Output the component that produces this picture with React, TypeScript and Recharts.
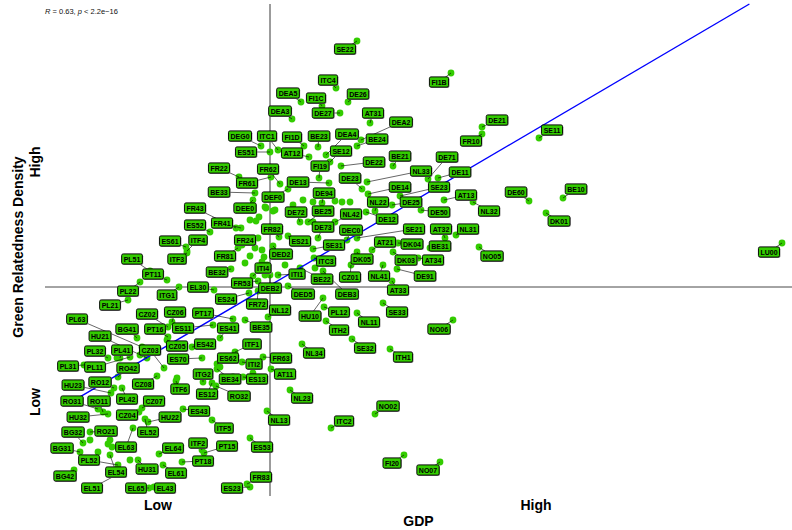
import React from "react";
import { ScatterChart, Scatter, XAxis, YAxis, ReferenceLine } from "recharts";

// NUTS-2 regions: GDP index vs. green relatedness density index
const regions = [
  "SE22", "ITC4", "DEA5", "FI1C", "DE26", "DEA3", "DE27", "AT31", "FI1B", "DEA2",
  "BE24", "DEG0", "ITC1", "FI1D", "BE23", "DEA4", "ES51", "AT12", "SE12", "BE21",
  "DE21", "FR10", "SE11", "DE22", "NL33", "DE71", "DE11", "DE14", "SE23", "AT13",
  "NL32", "DE60", "BE10", "DK01", "NL31", "NO05", "LU00", "FR22", "FR62", "FR61",
  "BE33", "DEE0", "DEF0", "DE13", "FI19", "DE23", "DE94", "BE25", "DE72", "NL42",
  "DE73", "NL22", "DE25", "DE12", "DE50", "DEC0", "SE21", "AT32", "ES21", "FR82",
  "DED2", "SE31", "AT21", "DK04", "BE31", "DK05", "DK03", "AT34", "ITC3", "ITI1",
  "BE22", "CZ01", "NL41", "DE91", "AT33", "DEB3", "DEB2", "DED5", "NL12", "HU10",
  "PL12", "NL11", "SE33", "ITH2", "NO06", "SE32", "ITH1", "NL34", "FR63", "AT11",
  "ES13", "ITI2", "NL23", "NO02", "ITC2", "NL13", "ES53", "FI20", "NO07", "FR83",
  "ES23", "ES61", "ITF4", "FR43", "FR41", "ES52", "FR24", "FR81", "ITI4", "PL51",
  "PT11", "ITF3", "BE32", "FR53", "PL22", "ITG1", "EL30", "ES24", "FR72", "PL21",
  "CZ02", "CZ06", "PT17", "PL63", "BG41", "PT16", "ES11", "ES41", "BE35", "HU21",
  "CZ05", "ES42", "ITF1", "PL32", "PL41", "CZ03", "ES70", "ES62", "PL31", "PL11",
  "RO42", "ITG2", "BE34", "ES12", "RO32", "HU23", "RO12", "CZ08", "ITF6", "RO31",
  "RO11", "PL42", "CZ07", "HU32", "CZ04", "HU22", "ES43", "ITF5", "BG32", "RO21",
  "EL52", "EL63", "BG31", "EL64", "ITF2", "PT15", "PL52", "PT18", "EL54", "HU31",
  "EL61", "BG42", "EL51", "EL65", "EL43",
];

const gdp = [
  357, 336, 301, 322, 348, 292, 340, 370, 451, 361,
  357, 261, 278, 304, 318, 326, 270, 309, 330, 393,
  482, 482, 539, 341, 367, 428, 438, 368, 400, 444,
  473, 529, 563, 546, 456, 479, 782, 239, 280, 271,
  255, 253, 288, 329, 319, 362, 322, 308, 300, 335,
  318, 375, 392, 366, 421, 347, 357, 445, 288, 279,
  273, 313, 372, 398, 430, 357, 393, 418, 314, 278,
  300, 351, 383, 397, 392, 323, 270, 288, 268, 323,
  324, 357, 383, 326, 453, 352, 390, 302, 263, 271,
  243, 242, 290, 375, 331, 267, 250, 404, 440, 247,
  250, 186, 187, 236, 241, 210, 242, 238, 253, 150,
  167, 187, 231, 258, 140, 179, 214, 249, 258, 128,
  168, 172, 233, 142, 137, 168, 213, 220, 245, 147,
  167, 192, 235, 108, 120, 164, 202, 217, 84, 130,
  118, 203, 217, 212, 216, 111, 114, 157, 176, 98,
  103, 122, 142, 108, 139, 148, 183, 212, 83, 90,
  145, 133, 80, 159, 202, 204, 118, 182, 110, 138,
  163, 74, 120, 149, 154,
];

const grd = [
  459, 412, 398, 394, 398, 381, 387, 377, 427, 360,
  354, 354, 350, 354, 353, 345, 348, 343, 338, 334,
  373, 366, 362, 334, 318, 321, 322, 306, 304, 300,
  298, 299, 302, 287, 265, 253, 257, 323, 316, 323,
  307, 300, 311, 317, 322, 311, 297, 278, 278, 278,
  262, 289, 295, 288, 290, 260, 262, 262, 264, 263,
  254, 251, 250, 257, 252, 248, 248, 242, 242, 225,
  232, 235, 235, 231, 219, 229, 225, 214, 183, 202,
  193, 187, 197, 179, 180, 161, 151, 156, 143, 131,
  123, 138, 110, 86, 72, 89, 62, 45, 38, 16,
  13, 253, 249, 272, 272, 268, 255, 252, 224, 229,
  220, 247, 231, 219, 218, 213, 210, 207, 209, 200,
  173, 178, 181, 153, 162, 163, 175, 162, 180, 142,
  160, 153, 148, 142, 142, 132, 142, 136, 135, 143,
  123, 118, 131, 117, 114, 107, 112, 124, 119, 91,
  88, 112, 92, 86, 88, 78, 91, 80, 57, 68,
  81, 72, 48, 46, 50, 47, 35, 38, 45, 40,
  35, 30, 27, 12, 13,
];

// where each repelled label sits, in the same units
const labelGdp = [
  345, 328, 288, 316, 358, 280, 323, 373, 439, 401,
  377, 240, 267, 292, 319, 347, 246, 292, 341, 400,
  497, 471, 552, 374, 421, 447, 460, 400, 439, 466,
  489, 516, 576, 559, 468, 492, 769, 219, 268, 247,
  219, 245, 273, 298, 320, 350, 324, 323, 296, 351,
  323, 378, 411, 387, 439, 351, 414, 441, 300, 272,
  281, 334, 385, 412, 440, 362, 406, 433, 326, 297,
  322, 350, 379, 425, 398, 347, 270, 303, 280, 310,
  339, 369, 397, 339, 439, 365, 403, 314, 281, 285,
  257, 254, 302, 388, 344, 279, 262, 392, 428, 261,
  232, 170, 198, 195, 222, 195, 245, 225, 263, 132,
  153, 177, 217, 242, 128, 167, 198, 226, 257, 110,
  147, 175, 203, 77, 127, 155, 183, 228, 261, 100,
  177, 205, 252, 95, 122, 150, 178, 228, 68, 95,
  128, 203, 230, 207, 239, 73, 100, 143, 180, 72,
  99, 127, 154, 78, 127, 170, 199, 224, 73, 106,
  148, 126, 62, 173, 198, 227, 89, 203, 116, 147,
  176, 65, 92, 136, 165,
];

const labelGrd = [
  451, 420, 407, 402, 406, 389, 387, 387, 418, 378,
  361, 364, 364, 363, 364, 366, 348, 347, 349, 344,
  380, 359, 370, 338, 329, 343, 328, 313, 313, 305,
  289, 308, 311, 279, 271, 244, 248, 332, 331, 317,
  308, 292, 303, 318, 334, 322, 307, 289, 288, 286,
  273, 298, 298, 281, 288, 270, 271, 271, 259, 271,
  246, 255, 258, 256, 254, 241, 240, 240, 239, 226,
  221, 223, 224, 224, 210, 206, 212, 206, 190, 184,
  188, 178, 188, 170, 171, 152, 143, 147, 142, 126,
  121, 136, 102, 94, 79, 80, 53, 37, 30, 23,
  12, 259, 260, 292, 277, 275, 260, 244, 232, 241,
  226, 241, 228, 217, 209, 205, 213, 201, 196, 195,
  186, 188, 187, 181, 171, 171, 172, 172, 173, 164,
  154, 156, 156, 149, 150, 150, 141, 142, 134, 133,
  132, 126, 121, 106, 104, 115, 118, 116, 111, 99,
  99, 101, 99, 83, 85, 83, 89, 72, 68, 69,
  68, 53, 52, 52, 57, 54, 40, 39, 28, 31,
  27, 24, 12, 12, 12,
];

// regions whose labels were dropped by the repel step
const unlabeledGdp = [
  266, 273, 259, 250, 256, 258, 255, 264, 250, 303,
  313, 335, 342, 350, 265, 275, 293, 313, 262, 285,
  267, 265, 315, 245, 262, 117, 140, 177, 220, 233,
  253, 90, 110, 108, 112, 98, 130,
];
const unlabeledGrd = [
  292, 289, 283, 280, 279, 262, 252, 243, 244, 300,
  298, 299, 298, 298, 293, 290, 295, 278, 250, 235,
  235, 225, 232, 237, 238, 142, 145, 122, 133, 123,
  127, 60, 60, 56, 53, 48, 40,
];

const gdpMedian = 270;
const grdMedian = 213;
const fit = { intercept: 56.1, slope: 0.587 };
const corrText = { r: "0.63", p: "2.2e\u221216" };

const xTicks = [158, 536];
const yTicks = [98, 338];
const tickNames = ["Low", "High"];

const X_DOMAIN: [number, number] = [45, 792];
const Y_DOMAIN: [number, number] = [4, 496];

const FONT = "'Liberation Sans', Arial, Helvetica, sans-serif";
const GREEN = "#33cc00";

const points = [
  ...regions.map((name, i) => ({ x: gdp[i], y: grd[i], name })),
  ...unlabeledGdp.map((x, i) => ({ x, y: unlabeledGrd[i], name: "" })),
];
const labels = regions.map((name, i) => ({ x: labelGdp[i], y: labelGrd[i], name }));

const fitAt = (x: number) => fit.intercept + fit.slope * x;
const fitStart = Math.min(...gdp);
const fitEnd = (Y_DOMAIN[1] - fit.intercept) / fit.slope;

// rough Helvetica-bold advance widths (em)
const narrow: Record<string, number> = { I: 0.278, E: 0.667, P: 0.667, S: 0.667, F: 0.611, L: 0.611, T: 0.611, Z: 0.611, G: 0.778, O: 0.778 };
const textWidth = (s: string, size: number) =>
  [...s].reduce((w, c) => w + (/\d/.test(c) ? 0.556 : narrow[c] ?? 0.722), 0) * size;

const LABEL_SIZE = 7;

function LabelBox(props: any) {
  const { cx, cy, payload } = props;
  const w = textWidth(payload.name, LABEL_SIZE) + 4;
  const h = 10.2;
  return (
    <g>
      <rect x={cx - w / 2 + 0.8} y={cy - h / 2 + 0.8} width={w} height={h} rx={1.6} fill="#8f8f8f" />
      <rect x={cx - w / 2} y={cy - h / 2} width={w} height={h} rx={1.6} fill={GREEN} stroke="#000" strokeWidth={0.95} />
      <text x={cx} y={cy} dy="0.36em" textAnchor="middle" fontFamily={FONT} fontWeight={700} fontSize={LABEL_SIZE} fill="#000">
        {payload.name}
      </text>
    </g>
  );
}

function Dot(props: any) {
  return <circle cx={props.cx} cy={props.cy} r={3.4} fill={GREEN} />;
}

function YTick({ x, y, payload }: any) {
  return (
    <text transform={`translate(${x + 2.5},${y}) rotate(-90)`} textAnchor="middle" fontFamily={FONT} fontWeight={700} fontSize={14} fill="#000">
      {tickNames[yTicks.indexOf(payload.value)]}
    </text>
  );
}

function YTitle({ viewBox }: any) {
  return (
    <text transform={`translate(${viewBox.x + 22.5},${viewBox.y + viewBox.height / 2 - 3}) rotate(-90)`} textAnchor="middle" fontFamily={FONT} fontWeight={700} fontSize={14} fill="#000">
      Green Relatedness Density
    </text>
  );
}

export default function App() {
  return (
    <div style={{ position: "relative", width: 792, height: 530, background: "#fff" }}>
      <style>{"body{margin:0}"}</style>
      <ScatterChart width={792} height={530} margin={{ top: 4, right: 0, bottom: 0, left: 0 }}>
        <XAxis
          type="number"
          dataKey="x"
          domain={X_DOMAIN}
          allowDataOverflow
          ticks={xTicks}
          tickFormatter={(v: number) => tickNames[xTicks.indexOf(v)]}
          axisLine={false}
          tickLine={false}
          tickSize={2}
          height={34}
          tick={{ fontSize: 14, fontWeight: 700, fill: "#000", fontFamily: FONT }}
          label={{ value: "GDP", position: "insideBottom", offset: 4, fontSize: 14, fontWeight: 700, fill: "#000", fontFamily: FONT }}
        />
        <YAxis
          type="number"
          dataKey="y"
          domain={Y_DOMAIN}
          allowDataOverflow
          ticks={yTicks}
          axisLine={false}
          tickLine={false}
          width={45}
          tick={<YTick />}
          label={{ content: <YTitle /> }}
        />
        <ReferenceLine x={gdpMedian} stroke="#222" strokeWidth={0.9} zIndex={10} />
        <ReferenceLine y={grdMedian} stroke="#333" strokeWidth={0.9} zIndex={10} />
        <Scatter data={points} shape={<Dot />} isAnimationActive={false} zIndex={20} />
        <ReferenceLine
          segment={[{ x: fitStart, y: fitAt(fitStart) }, { x: fitEnd, y: fitAt(fitEnd) }]}
          stroke="#0000ff"
          strokeWidth={1.4}
          zIndex={30}
        />
        {regions.map((name, i) => (
          <ReferenceLine
            key={name}
            segment={[{ x: gdp[i], y: grd[i] }, { x: labelGdp[i], y: labelGrd[i] }]}
            stroke="#000"
            strokeWidth={0.6}
            zIndex={40}
          />
        ))}
        <Scatter data={labels} shape={<LabelBox />} isAnimationActive={false} zIndex={50} />
      </ScatterChart>
      <div style={{ position: "absolute", left: 45, top: 7, fontFamily: FONT, fontSize: 7.5, color: "#111", whiteSpace: "nowrap" }}>
        <i>R</i> = {corrText.r}, <i>p</i> &lt; {corrText.p}
      </div>
    </div>
  );
}
